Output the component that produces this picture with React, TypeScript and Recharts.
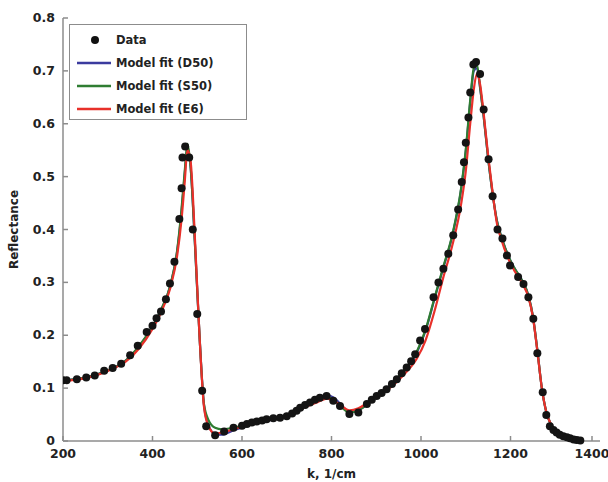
import React from "react";
import { ComposedChart, Line, Scatter, XAxis, YAxis } from "recharts";

// Measured reflectance spectrum: wavenumber (1/cm) and reflectance
const dataK = [
  200, 208, 231, 252, 271, 292, 311, 330, 350, 367, 387, 400, 409, 419, 430,
  439, 449, 460, 465, 467, 473, 482, 490, 500, 511, 520, 540, 560, 581, 600,
  611, 622, 633, 645, 655, 670, 685, 700, 712, 722, 730, 741, 752, 763, 774,
  789, 804, 819, 840, 860, 879, 890, 901, 912, 923, 935, 946, 957, 968, 978,
  987, 998, 1009, 1028, 1039, 1050, 1061, 1072, 1083, 1091, 1096, 1100, 1106,
  1110, 1117, 1123, 1132, 1140, 1151, 1160, 1171, 1182, 1192, 1199, 1217,
  1229, 1240, 1251, 1260, 1272, 1280, 1288, 1296, 1303, 1310, 1318, 1326,
  1333, 1341, 1348, 1356,
];
const dataR = [
  0.115, 0.115, 0.117, 0.12, 0.124, 0.133, 0.138, 0.146, 0.162, 0.18, 0.206,
  0.218, 0.232, 0.245, 0.268, 0.298, 0.339, 0.42, 0.478, 0.536, 0.557, 0.536,
  0.4, 0.24, 0.095, 0.028, 0.011, 0.018, 0.025, 0.029, 0.032, 0.035, 0.037,
  0.039, 0.041, 0.043, 0.044, 0.047, 0.052, 0.057, 0.063, 0.068, 0.073, 0.078,
  0.082, 0.085, 0.076, 0.066, 0.051, 0.054, 0.07, 0.078, 0.085, 0.091, 0.098,
  0.108, 0.117, 0.128, 0.139, 0.151, 0.164, 0.19, 0.212, 0.272, 0.3, 0.326,
  0.354, 0.389, 0.438, 0.49, 0.527, 0.564, 0.612, 0.659, 0.712, 0.717, 0.694,
  0.627, 0.533, 0.463, 0.4, 0.383, 0.351, 0.332, 0.31, 0.297, 0.272, 0.231,
  0.166, 0.092, 0.049, 0.028, 0.021, 0.016, 0.012, 0.009, 0.007, 0.005, 0.003,
  0.002, 0.001,
];

// Model evaluation grid and the three fitted models
const modelK = [
  200, 220, 250, 280, 310, 340, 370, 400, 420, 440, 455, 465, 472, 478, 485,
  495, 505, 515, 525, 540, 555, 580, 620, 660, 700, 740, 770, 790, 805, 820,
  840, 860, 880, 900, 930, 960, 990, 1010, 1030, 1050, 1070, 1090, 1100, 1110,
  1118, 1125, 1132, 1140, 1150, 1160, 1170, 1180, 1195, 1210, 1225, 1240,
  1250, 1260, 1270, 1280, 1290, 1305, 1320, 1340, 1360,
];
const fitD50 = [
  0.113, 0.116, 0.12, 0.127, 0.137, 0.152, 0.179, 0.216, 0.249, 0.294, 0.358,
  0.435, 0.505, 0.555, 0.52, 0.37, 0.2, 0.068, 0.03, 0.013, 0.012, 0.02,
  0.031, 0.039, 0.048, 0.065, 0.077, 0.087, 0.082, 0.07, 0.055, 0.058, 0.07,
  0.084, 0.104, 0.131, 0.166, 0.208, 0.268, 0.328, 0.388, 0.478, 0.548, 0.64,
  0.7, 0.705, 0.668, 0.614, 0.535, 0.468, 0.415, 0.385, 0.35, 0.325, 0.305,
  0.275, 0.236, 0.172, 0.1, 0.055, 0.032, 0.016, 0.009, 0.004, 0.001,
];
const fitS50 = [
  0.113, 0.116, 0.12, 0.127, 0.137, 0.152, 0.18, 0.217, 0.25, 0.295, 0.36,
  0.44, 0.51, 0.562, 0.52, 0.37, 0.2, 0.07, 0.04, 0.025, 0.022, 0.025, 0.033,
  0.04, 0.049, 0.065, 0.076, 0.083, 0.078, 0.066, 0.054, 0.058, 0.07, 0.084,
  0.104, 0.132, 0.168, 0.21, 0.27, 0.33, 0.39, 0.48, 0.55, 0.645, 0.705,
  0.712, 0.67, 0.615, 0.535, 0.468, 0.415, 0.385, 0.35, 0.325, 0.305, 0.275,
  0.236, 0.172, 0.1, 0.055, 0.032, 0.016, 0.009, 0.004, 0.001,
];
const fitE6 = [
  0.112, 0.115, 0.119, 0.126, 0.136, 0.15, 0.175, 0.212, 0.245, 0.29, 0.35,
  0.42, 0.49, 0.55, 0.53, 0.38, 0.2, 0.065, 0.028, 0.014, 0.016, 0.022, 0.032,
  0.04, 0.049, 0.064, 0.074, 0.08, 0.076, 0.068, 0.058, 0.062, 0.072, 0.083,
  0.1, 0.124, 0.155, 0.19, 0.245, 0.31, 0.37, 0.45, 0.51, 0.6, 0.665, 0.695,
  0.675, 0.62, 0.54, 0.47, 0.41, 0.38, 0.345, 0.32, 0.3, 0.272, 0.235, 0.17,
  0.1, 0.055, 0.032, 0.016, 0.008, 0.003, 0.001,
];

const xTicks = [200, 400, 600, 800, 1000, 1200, 1400];
const yTicks = [0, 0.1, 0.2, 0.3, 0.4, 0.5, 0.6, 0.7, 0.8];

const seriesNames = ["Data", "Model fit (D50)", "Model fit (S50)", "Model fit (E6)"];
const seriesColors = ["#111111", "#3b3b9e", "#2f7d32", "#e8302a"];

const measured = dataK.map((k, i) => ({ k, r: dataR[i] }));
const fitRows = (vals: number[]) => modelK.map((k, i) => ({ k, r: vals[i] }));

const FONT = "'DejaVu Sans', sans-serif";
const AXIS = "#8c8c8c";

const XTick = (props: any) => {
  const { x, y, payload } = props;
  return (
    <g>
      <line x1={x} y1={y} x2={x} y2={y - 5} stroke={AXIS} strokeWidth={1.5} />
      <text
        x={x}
        y={y + 17}
        textAnchor="middle"
        fontFamily={FONT}
        fontWeight="bold"
        fontSize={12.5}
        fill="#222"
      >
        {payload.value}
      </text>
    </g>
  );
};

const YTick = (props: any) => {
  const { x, y, payload } = props;
  const v = payload.value;
  return (
    <g>
      <line x1={x} y1={y} x2={x + 5} y2={y} stroke={AXIS} strokeWidth={1.5} />
      <text
        x={x - 8}
        y={y + 4}
        textAnchor="end"
        fontFamily={FONT}
        fontWeight="bold"
        fontSize={12.5}
        fill="#222"
      >
        {v === 0 ? "0" : v.toFixed(1)}
      </text>
    </g>
  );
};

// Legend box drawn over the top-left corner of the plot
const LegendBox = () => (
  <div
    style={{
      position: "absolute",
      left: 69,
      top: 24,
      width: 178,
      height: 96,
      border: "1.5px solid #8c8c8c",
      background: "#fff",
      boxSizing: "border-box",
      fontFamily: FONT,
      fontWeight: "bold",
      fontSize: 11.5,
      color: "#222",
      padding: "3px 0 0 6px",
    }}
  >
    {seriesNames.map((name, i) => (
      <div key={name} style={{ display: "flex", alignItems: "center", height: 23 }}>
        <svg width={36} height={10} style={{ marginRight: 4 }}>
          {i === 0 ? (
            <circle cx={19} cy={5} r={4} fill={seriesColors[0]} />
          ) : (
            <line x1={1} y1={5} x2={35} y2={5} stroke={seriesColors[i]} strokeWidth={2.5} />
          )}
        </svg>
        <span>{name}</span>
      </div>
    ))}
  </div>
);

const Dot = (props: any) => {
  const { cx, cy } = props;
  return <circle cx={cx} cy={cy} r={4} fill="#141414" />;
};

export default function App() {
  return (
    <div style={{ position: "absolute", left: 0, top: 0, background: "#fff" }}>
      <ComposedChart
        width={608}
        height={482}
        margin={{ top: 18, right: 8, bottom: 0, left: 0 }}
      >
        <XAxis
          type="number"
          dataKey="k"
          domain={[200, 1400]}
          ticks={xTicks}
          allowDataOverflow
          height={41}
          tickSize={0}
          tickMargin={0}
          tickLine={false}
          axisLine={{ stroke: AXIS, strokeWidth: 1.5 }}
          tick={<XTick />}
          label={{
            value: "k, 1/cm",
            position: "insideBottom",
            offset: 4,
            style: { fontFamily: FONT, fontWeight: "bold", fontSize: 12, fill: "#222" },
          }}
        />
        <YAxis
          type="number"
          dataKey="r"
          domain={[0, 0.8]}
          ticks={yTicks}
          width={63}
          tickSize={0}
          tickMargin={0}
          tickLine={false}
          axisLine={{ stroke: AXIS, strokeWidth: 1.5 }}
          tick={<YTick />}
          label={{
            value: "Reflectance",
            angle: -90,
            position: "insideLeft",
            offset: 14,
            style: {
              fontFamily: FONT,
              fontWeight: "bold",
              fontSize: 12,
              fill: "#222",
              textAnchor: "middle",
            },
          }}
        />
        <Scatter
          name={seriesNames[0]}
          data={measured}
          dataKey="r"
          shape={<Dot />}
          isAnimationActive={false}
        />
        <Line
          name={seriesNames[1]}
          data={fitRows(fitD50)}
          dataKey="r"
          type="monotone"
          stroke={seriesColors[1]}
          strokeWidth={2.2}
          dot={false}
          isAnimationActive={false}
        />
        <Line
          name={seriesNames[2]}
          data={fitRows(fitS50)}
          dataKey="r"
          type="monotone"
          stroke={seriesColors[2]}
          strokeWidth={2.2}
          dot={false}
          isAnimationActive={false}
        />
        <Line
          name={seriesNames[3]}
          data={fitRows(fitE6)}
          dataKey="r"
          type="monotone"
          stroke={seriesColors[3]}
          strokeWidth={2.2}
          dot={false}
          isAnimationActive={false}
        />
      </ComposedChart>
      <LegendBox />
    </div>
  );
}
